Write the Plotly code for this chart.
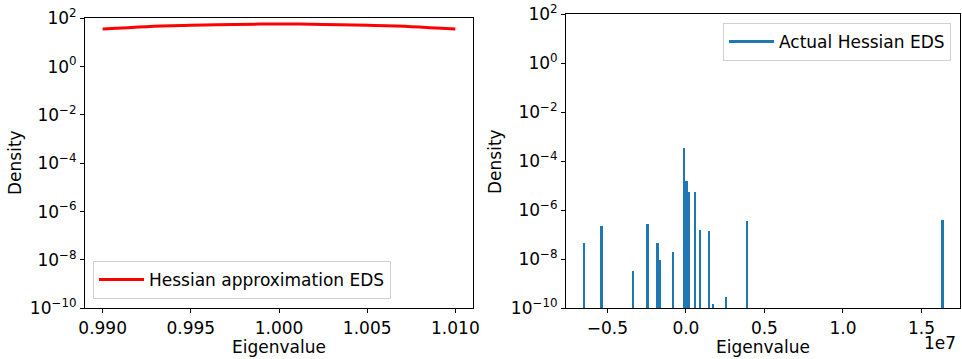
import plotly.graph_objects as go

# Left panel: Hessian approximation EDS (density curve)
approx_x = [0.990, 0.9925, 0.995, 0.9975, 1.000, 1.0025, 1.005, 1.0075, 1.010]
approx_y = [36, 45, 51, 56, 58, 56, 51, 45, 36]

# Right panel: Actual Hessian EDS (histogram bins, eigenvalue in units of 1e7)
actual_x = [-0.648, -0.537, -0.338, -0.244, -0.180, -0.164, -0.081, -0.013,
            0.004, 0.021, 0.059, 0.091, 0.148, 0.172, 0.255, 0.389, 1.633]
actual_y = [4.5e-8, 2.3e-7, 3.3e-9, 2.7e-7, 4.5e-8, 9.5e-9, 2.0e-8, 3.5e-4,
            1.6e-5, 5.5e-6, 5.5e-6, 1.5e-7, 1.4e-7, 1.4e-10, 2.7e-10, 3.4e-7, 4.0e-7]
bin_width = 0.0158

y_tickvals = [1e-10, 1e-8, 1e-6, 1e-4, 1e-2, 1e0, 1e2]
y_ticktext = ["10<sup>\u221210</sup>", "10<sup>\u22128</sup>", "10<sup>\u22126</sup>",
              "10<sup>\u22124</sup>", "10<sup>\u22122</sup>", "10<sup>0</sup>", "10<sup>2</sup>"]
left_xticks = [0.990, 0.995, 1.000, 1.005, 1.010]
left_xtext = ["0.990", "0.995", "1.000", "1.005", "1.010"]
right_xticks = [-0.5, 0.0, 0.5, 1.0, 1.5]
right_xtext = ["\u22120.5", "0.0", "0.5", "1.0", "1.5"]

FONT = "DejaVu Sans"
W, H = 962, 359

fig = go.Figure()
fig.add_trace(go.Scatter(x=approx_x, y=approx_y, mode="lines", line=dict(color="red", width=3, shape="spline"),
                         name="Hessian approximation EDS", xaxis="x", yaxis="y", legend="legend"))
fig.add_trace(go.Bar(x=[v * 1e7 for v in actual_x], y=actual_y, width=bin_width * 1e7,
                     marker=dict(color="#1f77b4", line=dict(width=0)), showlegend=False,
                     xaxis="x2", yaxis="y2"))
fig.add_trace(go.Scatter(x=[None], y=[None], mode="lines", line=dict(color="#1f77b4", width=3),
                         name="Actual Hessian EDS", xaxis="x2", yaxis="y2", legend="legend2"))

axis_common = dict(showline=True, linecolor="black", linewidth=1, mirror=True, ticks="outside",
                   ticklen=4, tickwidth=1, tickcolor="black", showgrid=False, zeroline=False,
                   automargin=False,
                   tickfont=dict(family=FONT, size=17, color="black"))

legend_common = dict(bordercolor="#d0d0d0", borderwidth=1, bgcolor="rgba(255,255,255,0.8)",
                     itemwidth=45, font=dict(family=FONT, size=17, color="black"))

fig.update_layout(
    width=W, height=H, margin=dict(l=0, r=0, t=0, b=0, autoexpand=False),
    paper_bgcolor="white", plot_bgcolor="white",
    font=dict(family=FONT, size=17, color="black"),
    bargap=0,
    xaxis=dict(domain=[85 / W, 473 / W], range=[0.989, 1.011], tickvals=left_xticks, ticktext=left_xtext,
               anchor="y", **axis_common),
    yaxis=dict(domain=[(H - 308.3) / H, (H - 18.3) / H], type="log", range=[-10, 2],
               tickvals=y_tickvals, ticktext=y_ticktext, anchor="x", **axis_common),
    xaxis2=dict(domain=[566 / W, 960 / W], range=[-0.7635e7, 1.7455e7],
                tickvals=[v * 1e7 for v in right_xticks], ticktext=right_xtext, anchor="y2", **axis_common),
    yaxis2=dict(domain=[(H - 308.3) / H, (H - 14.3) / H], type="log", range=[-10, 2],
                tickvals=y_tickvals, ticktext=y_ticktext, anchor="x2", **axis_common),
    legend=dict(x=93 / W, y=(H - 299) / H, xanchor="left", yanchor="bottom", **legend_common),
    legend2=dict(x=951 / W, y=(H - 23) / H, xanchor="right", yanchor="top", **legend_common),
    annotations=[
        dict(text="Eigenvalue", x=279 / W, y=(H - 347) / H, xref="paper", yref="paper",
             showarrow=False, xanchor="center", yanchor="middle", font=dict(family=FONT, size=17)),
        dict(text="Eigenvalue", x=763 / W, y=(H - 347) / H, xref="paper", yref="paper",
             showarrow=False, xanchor="center", yanchor="middle", font=dict(family=FONT, size=17)),
        dict(text="Density", x=15 / W, y=(H - 163) / H, xref="paper", yref="paper", textangle=-90,
             showarrow=False, xanchor="center", yanchor="middle", font=dict(family=FONT, size=17)),
        dict(text="Density", x=495 / W, y=(H - 161) / H, xref="paper", yref="paper", textangle=-90,
             showarrow=False, xanchor="center", yanchor="middle", font=dict(family=FONT, size=17)),
        dict(text="1e7", x=958 / W, y=(H - 343) / H, xref="paper", yref="paper",
             showarrow=False, xanchor="right", yanchor="middle", font=dict(family=FONT, size=17)),
    ],
)

fig.write_html("out.html")
